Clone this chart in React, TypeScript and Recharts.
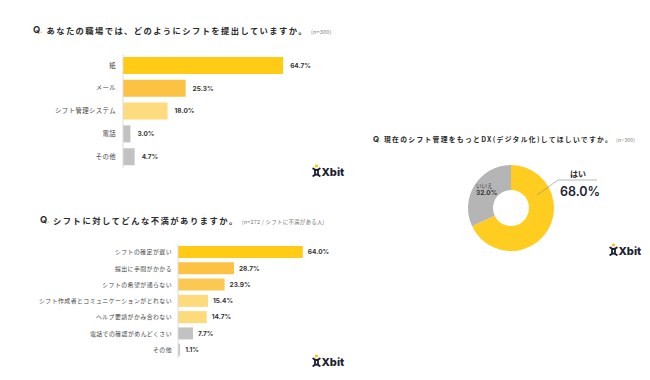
import React from "react";
import { BarChart, Bar, XAxis, YAxis, Cell, LabelList, PieChart, Pie } from "recharts";

const FONT = "Inter, 'Noto Sans CJK JP', sans-serif";
const JP = "'Noto Sans CJK JP', sans-serif";

// Q1: シフトの提出方法
const submitMethods = ["紙", "メール", "シフト管理システム", "電話", "その他"];
const submitShares = [64.7, 25.3, 18.0, 3.0, 4.7];
const submitColors = ["#FFCB14", "#FBC243", "#FDDB7E", "#C2C2C2", "#C2C2C2"];

// Q2: シフトへの不満
const complaints = [
  "シフトの確定が遅い",
  "提出に手間がかかる",
  "シフトの希望が通らない",
  "シフト作成者とコミュニケーションがとれない",
  "ヘルプ要請がかみ合わない",
  "電話での確認がめんどくさい",
  "その他",
];
const complaintShares = [64.0, 28.7, 23.9, 15.4, 14.7, 7.7, 1.1];
const complaintColors = ["#FFCB14", "#FBC243", "#FBC851", "#FDDA7C", "#FDDA7C", "#C2C2C2", "#C8C8C8"];

// Q3: DX化してほしいか
const dxAnswers = ["はい", "いいえ"];
const dxShares = [68.0, 32.0];
const dxColors = ["#FFCD1F", "#B5B5B5"];

const submitData = submitMethods.map((name, i) => ({ name, value: submitShares[i] }));
const complaintData = complaints.map((name, i) => ({ name, value: complaintShares[i] }));
const dxData = dxAnswers.map((name, i) => ({ name, value: dxShares[i] }));

const pct = (v: any) => `${Number(v).toFixed(1)}%`;

const Title = ({ x, y, textX, text, note, size = 8, spacing = 1.45, noteSize = 5.5 }: any) => (
  <>
    <div
      style={{
        position: "absolute",
        left: x,
        top: y - 7,
        lineHeight: "14px",
        fontFamily: FONT,
        fontWeight: 700,
        fontSize: size + 1,
        color: "#2b2b2b",
      }}
    >
      Q<span style={{ color: "#FFC400" }}>.</span>
    </div>
    <div
      style={{
        position: "absolute",
        left: textX,
        top: y - 7,
        lineHeight: "14px",
        whiteSpace: "nowrap",
        fontFamily: JP,
        fontWeight: 700,
        fontSize: size,
        letterSpacing: spacing,
        color: "#2b2b2b",
      }}
    >
      {text}
      <span style={{ fontSize: noteSize, fontWeight: 400, letterSpacing: 0.2, color: "#777", marginLeft: 3 }}>
        {note}
      </span>
    </div>
  </>
);

const Logo = ({ x, y }: any) => (
  <svg
    width={36}
    height={14}
    style={{ position: "absolute", left: x, top: y, overflow: "visible" }}
  >
    <circle cx={4.5} cy={2} r={1.6} fill="#FFC400" />
    <path d="M1.2 4.5 Q4.5 7.5 7.8 4.5 M1.2 12 Q4.5 9 7.8 12 M3 6.2 L3 10.3 M6 6.2 L6 10.3" stroke="#1d1f33" strokeWidth={1.8} fill="none" strokeLinecap="round" />
    <text x={9.5} y={12} fontFamily="Inter, sans-serif" fontWeight={800} fontSize={11} fill="#1d1f33">
      Xbit
    </text>
  </svg>
);

const renderDxLabel = (props: any) => {
  const { cx, cy, index, name, value } = props;
  if (index === 0) {
    return (
      <g>
        <polyline
          points={`${cx + 26},${cy - 13} ${cx + 47},${cy - 28} ${cx + 86},${cy - 28}`}
          fill="none"
          stroke="#8a8a8a"
          strokeWidth={0.6}
        />
        <text x={cx + 59} y={cy - 31} fontFamily={JP} fontWeight={700} fontSize={8} fill="#2b2b2b">
          {name}
        </text>
        <text x={cx + 49} y={cy - 12} fontFamily="Inter, sans-serif" fontWeight={600} fontSize={12.5} fill="#1d1f33">
          {pct(value)}
        </text>
      </g>
    );
  }
  return (
    <g>
      <text x={cx - 35} y={cy - 20} fontFamily={JP} fontSize={5.5} fill="#333">
        {name}
      </text>
      <text x={cx - 35} y={cy - 13} fontFamily="Inter, sans-serif" fontWeight={700} fontSize={6.5} fill="#333">
        {pct(value)}
      </text>
    </g>
  );
};

export default function App() {
  return (
    <div
      style={{
        position: "absolute",
        left: 0,
        top: 0,
        width: 650,
        height: 380,
        background: "#fff",
        overflow: "hidden",
      }}
    >
      <Title
        x={33}
        y={30}
        textX={46.5}
        text="あなたの職場では、どのようにシフトを提出していますか。"
        note="(n=300)"
        size={8.3}
        spacing={1.4}
      />

      <div style={{ position: "absolute", left: 0, top: 50 }}>
        <BarChart
          width={360}
          height={118}
          data={submitData}
          layout="vertical"
          margin={{ top: 4, right: 39, bottom: 0, left: 0 }}
        >
          <XAxis type="number" domain={[0, 80]} hide />
          <YAxis
            type="category"
            dataKey="name"
            width={123}
            tickLine={false}
            tickSize={5}
            tickMargin={2}
            axisLine={{ stroke: "#dcdcdc" }}
            tick={{ fontSize: 6.4, fill: "#444", fontFamily: JP, letterSpacing: 0.4 }}
            interval={0}
          />
          <Bar dataKey="value" barSize={17} isAnimationActive={false}>
            {submitData.map((_, i) => (
              <Cell key={`s-${i}`} fill={submitColors[i]} />
            ))}
            <LabelList
              dataKey="value"
              position="right"
              offset={7}
              formatter={pct}
              style={{ fontSize: 6.5, fontWeight: 700, fill: "#333", fontFamily: "Inter, sans-serif" }}
            />
          </Bar>
        </BarChart>
      </div>
      <Logo x={312} y={164} />

      <Title
        x={40}
        y={220}
        textX={53}
        text="シフトに対してどんな不満がありますか。"
        note="(n=272 / シフトに不満がある人)"
        size={8.3}
        spacing={1.5}
      />

      <div style={{ position: "absolute", left: 0, top: 240 }}>
        <BarChart
          width={364}
          height={119}
          data={complaintData}
          layout="vertical"
          margin={{ top: 4, right: 30, bottom: 1, left: 0 }}
        >
          <XAxis type="number" domain={[0, 80]} hide />
          <YAxis
            type="category"
            dataKey="name"
            width={178}
            tickLine={false}
            tickSize={4}
            tickMargin={2}
            axisLine={{ stroke: "#dcdcdc" }}
            tick={{ fontSize: 5.9, fill: "#444", fontFamily: JP, letterSpacing: 0.45 }}
            interval={0}
          />
          <Bar dataKey="value" barSize={12} isAnimationActive={false}>
            {complaintData.map((_, i) => (
              <Cell key={`c-${i}`} fill={complaintColors[i]} />
            ))}
            <LabelList
              dataKey="value"
              position="right"
              offset={5}
              formatter={pct}
              style={{ fontSize: 6.5, fontWeight: 700, fill: "#333", fontFamily: "Inter, sans-serif" }}
            />
          </Bar>
        </BarChart>
      </div>
      <Logo x={312} y={354} />

      <Title
        x={373}
        y={139}
        textX={384}
        text="現在のシフト管理をもっとDX(デジタル化)してほしいですか。"
        note="(n=300)"
        size={6.8}
        spacing={1.3}
        noteSize={5}
      />

      <div style={{ position: "absolute", left: 406, top: 133 }}>
        <PieChart width={240} height={140}>
          <Pie
            data={dxData}
            dataKey="value"
            nameKey="name"
            cx={100}
            cy={70}
            innerRadius={18}
            outerRadius={43}
            startAngle={90}
            endAngle={-270}
            stroke="none"
            labelLine={false}
            label={renderDxLabel}
            isAnimationActive={false}
          >
            {dxData.map((_, i) => (
              <Cell key={`d-${i}`} fill={dxColors[i]} />
            ))}
          </Pie>
        </PieChart>
      </div>
      <Logo x={609} y={243} />
    </div>
  );
}
